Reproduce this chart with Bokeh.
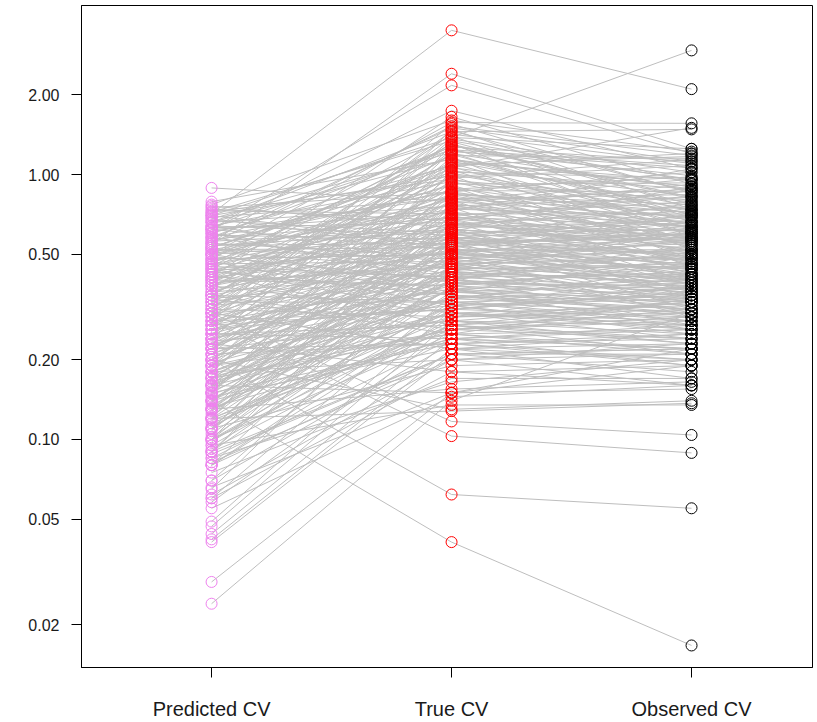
from bokeh.plotting import figure
from bokeh.models import FixedTicker, Range1d, PrintfTickFormatter, ColumnDataSource
from bokeh.embed import file_html
from bokeh.resources import INLINE

categories = ["Predicted CV", "True CV", "Observed CV"]
y_ticks = [0.02, 0.05, 0.1, 0.2, 0.5, 1.0, 2.0]

predicted_cv = [
    0.71, 0.55, 0.62, 0.30, 0.50, 0.35, 0.024, 0.029, 0.14, 0.20, 0.28, 0.30, 0.12,
    0.62, 0.41, 0.77, 0.28, 0.55, 0.19, 0.66, 0.33, 0.48, 0.24, 0.72, 0.37, 0.15, 0.58, 0.44, 0.26, 0.68, 0.31, 0.50, 0.21,
    0.79, 0.35, 0.12, 0.60, 0.42, 0.27, 0.53, 0.18, 0.70, 0.39, 0.23, 0.64, 0.47, 0.13, 0.30, 0.56, 0.75, 0.20, 0.43, 0.34,
    0.61, 0.10, 0.50, 0.25, 0.89, 0.38, 0.16, 0.66, 0.29, 0.52, 0.45, 0.22, 0.73, 0.11, 0.40,
    0.57, 0.32, 0.20, 0.63, 0.09, 0.46, 0.27, 0.76, 0.36, 0.14, 0.54, 0.24, 0.42, 0.67, 0.17, 0.31, 0.50, 0.08,
    0.59, 0.38, 0.22, 0.44, 0.13, 0.70, 0.28, 0.52, 0.19, 0.35, 0.62, 0.10, 0.41, 0.26, 0.48, 0.16, 0.065,
    0.55, 0.33, 0.21, 0.46, 0.12, 0.64, 0.29, 0.39, 0.15, 0.51, 0.24, 0.07, 0.36, 0.58, 0.18, 0.44, 0.27, 0.11, 0.49, 0.32,
    0.20, 0.60, 0.09, 0.40, 0.26, 0.14, 0.53, 0.30, 0.06, 0.43, 0.17, 0.23, 0.35, 0.10, 0.47, 0.13, 0.28, 0.049, 0.38, 0.19,
    0.08, 0.31, 0.22, 0.047, 0.42, 0.12, 0.16, 0.058, 0.34, 0.10, 0.044, 0.25, 0.07, 0.15, 0.042, 0.30, 0.09, 0.041, 0.18, 0.062,
    0.11, 0.06, 0.23, 0.075, 0.085, 0.13, 0.066, 0.16, 0.055, 0.095, 0.20,
    0.45, 0.18, 0.66, 0.29, 0.53, 0.12, 0.38, 0.72, 0.22, 0.49,
    0.33, 0.58, 0.15, 0.41, 0.69, 0.25, 0.51, 0.11, 0.36, 0.62,
    0.20, 0.47, 0.27, 0.74, 0.13, 0.40, 0.56, 0.17, 0.32, 0.64,
    0.23, 0.43, 0.09, 0.54, 0.30, 0.68, 0.19, 0.37, 0.48, 0.14,
    0.52, 0.26, 0.39, 0.11, 0.60, 0.21, 0.34, 0.45, 0.16, 0.28,
    0.41, 0.13, 0.24, 0.50, 0.18, 0.33, 0.08, 0.27, 0.44, 0.12,
    0.57, 0.31, 0.70, 0.24, 0.46, 0.63, 0.35, 0.15, 0.53, 0.40,
    0.10, 0.25, 0.35, 0.19, 0.14, 0.22, 0.30, 0.08, 0.17, 0.26,
    0.085, 0.095, 0.105, 0.115, 0.125, 0.135, 0.145, 0.155, 0.165, 0.175,
    0.185, 0.195, 0.21, 0.225, 0.24, 0.088, 0.098, 0.108, 0.118, 0.128,
    0.138, 0.148, 0.158, 0.17, 0.18, 0.19, 0.205, 0.22, 0.235, 0.25,
    0.082, 0.092, 0.102, 0.112, 0.122, 0.132, 0.142, 0.152, 0.162, 0.172,
]

true_cv = [
    3.5, 2.4, 2.17, 1.38, 1.57, 1.06, 0.14, 0.15, 0.041, 0.062, 0.103, 0.117, 0.128,
    1.74, 1.65, 1.60, 1.55, 1.52, 1.48, 1.45, 1.42, 1.40, 1.36, 1.34, 1.31, 1.29, 1.27, 1.25, 1.23, 1.21, 1.20, 1.18, 1.16,
    1.14, 1.12, 1.10, 1.08, 1.06, 1.04, 1.02, 1.00, 0.99, 0.97, 0.95, 0.94, 0.92, 0.90, 0.89, 0.87, 0.86, 0.85, 0.84, 0.83,
    0.82, 0.81, 0.80, 0.80, 0.79, 0.78, 0.77, 0.76, 0.75, 0.74, 0.73, 0.72, 0.71, 0.70, 0.70,
    0.69, 0.68, 0.67, 0.66, 0.66, 0.65, 0.64, 0.63, 0.63, 0.62, 0.61, 0.61, 0.60, 0.60, 0.59, 0.58, 0.58, 0.57,
    0.57, 0.56, 0.56, 0.55, 0.55, 0.54, 0.54, 0.53, 0.53, 0.52, 0.52, 0.51, 0.51, 0.50, 0.50, 0.50, 0.49,
    0.49, 0.48, 0.48, 0.47, 0.47, 0.46, 0.46, 0.45, 0.45, 0.44, 0.44, 0.43, 0.43, 0.42, 0.42, 0.41, 0.41, 0.40, 0.40, 0.40,
    0.39, 0.39, 0.38, 0.38, 0.37, 0.37, 0.36, 0.36, 0.35, 0.35, 0.34, 0.34, 0.33, 0.33, 0.32, 0.32, 0.31, 0.31, 0.30, 0.30,
    0.29, 0.29, 0.28, 0.28, 0.27, 0.27, 0.26, 0.26, 0.25, 0.25, 0.24, 0.24, 0.23, 0.23, 0.22, 0.22, 0.21, 0.21, 0.20, 0.20,
    0.19, 0.18, 0.18, 0.17, 0.165, 0.155, 0.15, 0.15, 0.145, 0.135, 0.13,
    1.30, 1.22, 1.15, 1.11, 1.07, 1.03, 0.98, 0.96, 0.93, 0.91,
    0.88, 0.86, 0.84, 0.82, 0.81, 0.79, 0.77, 0.76, 0.74, 0.72,
    0.71, 0.69, 0.68, 0.67, 0.65, 0.64, 0.62, 0.62, 0.60, 0.59,
    0.58, 0.57, 0.56, 0.55, 0.54, 0.53, 0.52, 0.51, 0.50, 0.49,
    0.48, 0.47, 0.46, 0.45, 0.44, 0.43, 0.42, 0.41, 0.40, 0.39,
    0.38, 0.37, 0.36, 0.35, 0.34, 0.33, 0.32, 0.31, 0.30, 0.29,
    1.50, 1.46, 1.38, 1.33, 1.28, 1.24, 1.19, 1.13, 1.09, 1.01,
    0.28, 0.27, 0.26, 0.25, 0.24, 0.23, 0.22, 0.21, 0.26, 0.32,
    0.24, 0.31, 0.45, 0.27, 0.62, 0.35, 0.22, 0.52, 0.29, 0.41,
    0.75, 0.33, 0.23, 0.48, 0.38, 0.21, 0.36, 0.58, 0.26, 0.43,
    0.68, 0.30, 0.50, 0.25, 0.39, 0.85, 0.34, 0.55, 0.28, 0.46,
    0.20, 0.27, 0.40, 0.32, 0.57, 0.24, 0.44, 0.37, 0.65, 0.30,
]

observed_cv = [
    2.1, 1.25, 1.2, 2.94, 1.56, 1.5, 0.30, 0.22, 0.0167, 0.055, 0.089, 0.104, 0.137,
    1.05, 0.92, 1.22, 0.85, 1.18, 0.74, 1.48, 1.10, 0.66, 1.02, 0.95, 0.58, 0.81, 1.12, 0.70, 0.99, 0.62, 0.88, 1.15, 0.52,
    0.90, 0.76, 0.64, 1.20, 0.83, 0.56, 0.97, 0.71, 0.48, 1.08, 0.80, 0.60, 0.93, 0.45, 0.68, 0.86, 1.02, 0.54, 0.77, 0.63,
    0.50, 0.72, 0.96, 0.42, 0.88, 0.58, 0.66, 0.82, 0.39, 0.70, 1.05, 0.61, 0.55, 0.47, 0.79,
    0.64, 0.44, 0.87, 0.52, 0.38, 0.73, 0.59, 0.67, 0.34, 0.56, 0.90, 0.49, 0.62, 0.41, 0.70, 0.53, 0.36, 0.45,
    0.78, 0.57, 0.31, 0.66, 0.50, 0.60, 0.43, 0.75, 0.35, 0.51, 0.46, 0.58, 0.40, 0.63, 0.29, 0.48, 0.55,
    0.42, 0.60, 0.37, 0.52, 0.44, 0.33, 0.48, 0.57, 0.30, 0.45, 0.62, 0.39, 0.35, 0.50, 0.41, 0.27, 0.47, 0.36, 0.54, 0.32,
    0.43, 0.38, 0.31, 0.46, 0.26, 0.40, 0.34, 0.49, 0.33, 0.28, 0.37, 0.44, 0.30, 0.35, 0.41, 0.25, 0.36, 0.29, 0.32, 0.24,
    0.31, 0.38, 0.23, 0.27, 0.33, 0.21, 0.29, 0.24, 0.26, 0.34, 0.22, 0.19, 0.25, 0.20, 0.23, 0.17, 0.22, 0.18, 0.21, 0.16,
    0.20, 0.19, 0.16, 0.17, 0.20, 0.165, 0.155, 0.19, 0.16, 0.135, 0.14,
    0.82, 1.06, 0.73, 0.95, 0.60, 0.88, 1.14, 0.67, 0.79, 0.53,
    0.98, 0.65, 0.74, 0.57, 0.84, 0.69, 0.51, 0.63, 0.92, 0.46,
    0.71, 0.57, 0.83, 0.48, 0.61, 0.76, 0.40, 0.54, 0.66, 0.59,
    0.47, 0.69, 0.42, 0.58, 0.37, 0.64, 0.52, 0.44, 0.71, 0.39,
    0.56, 0.34, 0.49, 0.40, 0.46, 0.61, 0.33, 0.42, 0.51, 0.37,
    0.45, 0.29, 0.39, 0.31, 0.42, 0.27, 0.34, 0.38, 0.26, 0.30,
    1.12, 0.86, 1.25, 0.77, 0.96, 1.08, 0.69, 0.90, 1.17, 0.74,
    0.33, 0.24, 0.28, 0.22, 0.27, 0.19, 0.25, 0.21, 0.31, 0.35,
    0.26, 0.36, 0.40, 0.23, 0.55, 0.30, 0.20, 0.46, 0.33, 0.37,
    0.64, 0.28, 0.24, 0.52, 0.35, 0.22, 0.32, 0.50, 0.29, 0.39,
    0.58, 0.27, 0.44, 0.21, 0.34, 0.72, 0.31, 0.60, 0.25, 0.41,
    0.23, 0.30, 0.36, 0.26, 0.49, 0.22, 0.38, 0.33, 0.56, 0.28,
]

n = len(true_cv)
positions = [1, 2, 3]

p = figure(
    width=817, height=722,
    y_axis_type="log",
    x_range=Range1d(0.458, 3.504),
    y_range=Range1d(0.01379, 4.343),
    output_backend="svg", toolbar_location=None,
    min_border_left=81, min_border_right=5, min_border_top=5, min_border_bottom=55,
)
p.background_fill_color = "white"
p.border_fill_color = "white"
p.xgrid.visible = False
p.ygrid.visible = False
p.outline_line_color = "black"
p.outline_line_width = 1
p.outline_line_alpha = 1

lines_src = ColumnDataSource(dict(
    xs=[positions for _ in range(n)],
    ys=[[predicted_cv[i], true_cv[i], observed_cv[i]] for i in range(n)],
))
p.multi_line(xs="xs", ys="ys", source=lines_src, line_color="#BEBEBE", line_width=1)

p.scatter(x=[positions[0]] * n, y=predicted_cv, marker="circle", size=11,
          fill_color=None, line_color="#EE82EE", line_width=1)
p.scatter(x=[positions[1]] * n, y=true_cv, marker="circle", size=11,
          fill_color=None, line_color="#FF0000", line_width=1)
p.scatter(x=[positions[2]] * n, y=observed_cv, marker="circle", size=11,
          fill_color=None, line_color="#000000", line_width=1)

for ax in (p.xaxis[0], p.yaxis[0]):
    ax.axis_line_color = "black"
    ax.major_tick_line_color = "black"
    ax.major_tick_out = 10
    ax.major_tick_in = 0
    ax.minor_tick_line_color = None
    ax.major_label_text_font = "Liberation Sans"
    ax.major_label_text_color = "#1a1a1a"

p.yaxis.major_label_text_font_size = "16px"
p.xaxis.major_label_text_font_size = "20px"
p.yaxis.ticker = FixedTicker(ticks=y_ticks)
p.yaxis.formatter = PrintfTickFormatter(format="%.2f")
p.yaxis.major_label_standoff = 12
p.xaxis.ticker = FixedTicker(ticks=positions)
p.xaxis.major_label_overrides = {positions[i]: categories[i] for i in range(3)}
p.xaxis.major_label_standoff = 20

open("out.html", "w").write(file_html(p, INLINE))
